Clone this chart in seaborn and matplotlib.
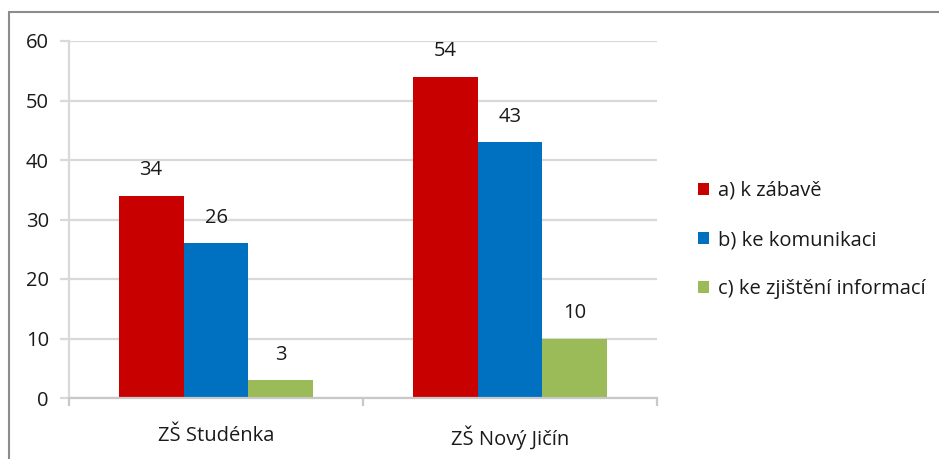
import pandas as pd
import matplotlib.pyplot as plt
import seaborn as sns
from matplotlib.patches import Rectangle

SCHOOLS = ['ZŠ Studénka', 'ZŠ Nový Jičín']
ANSWERS = ['a) k zábavě', 'b) ke komunikaci', 'c) ke zjištění informací']
VALUES = {
    'a) k zábavě': [34, 54],
    'b) ke komunikaci': [26, 43],
    'c) ke zjištění informací': [3, 10],
}
COLORS = ['#C80000', '#0070C0', '#9BBB59']
Y_TICKS = [0, 10, 20, 30, 40, 50, 60]


def build_frame():
    rows = []
    for answer in ANSWERS:
        for school, val in zip(SCHOOLS, VALUES[answer]):
            rows.append({'school': school, 'answer': answer, 'count': val})
    return pd.DataFrame(rows)


def draw(df):
    sns.set_style('white')
    plt.rcParams['font.family'] = ['Open Sans', 'DejaVu Sans']
    fig = plt.figure(figsize=(9.39, 4.59), dpi=100)
    ax = fig.add_axes([69 / 939, 1 - 398 / 459, (657 - 69) / 939, (398 - 41) / 459])

    sns.barplot(data=df, x='school', y='count', hue='answer', order=SCHOOLS,
                hue_order=ANSWERS, palette=COLORS, width=0.663, saturation=1,
                linewidth=0, ax=ax, legend=True)

    for cont in ax.containers:
        ax.bar_label(cont, padding=11, fontsize=14.5, color='#1a1a1a')

    ax.set_xlim(-0.5, 1.5)
    ax.set_ylim(0, 60)
    ax.set_yticks(Y_TICKS)
    ax.yaxis.grid(True, color='#d9d9d9', lw=1.6)
    ax.set_axisbelow(True)
    ax.set_xlabel('')
    ax.set_ylabel('')

    for side in ['top', 'right']:
        ax.spines[side].set_visible(False)
    ax.spines['left'].set_color('#d9d9d9')
    ax.spines['left'].set_linewidth(1.6)
    ax.spines['bottom'].set_color('#c8c8c8')
    ax.spines['bottom'].set_linewidth(1.6)

    ax.tick_params(axis='y', left=True, length=6.5, width=1.6, color='#d9d9d9',
                   pad=8, labelsize=14.5, labelcolor='#1a1a1a')
    ax.tick_params(axis='x', which='major', bottom=False, length=0, pad=20,
                   labelsize=14.5, labelcolor='#1a1a1a')
    ax.set_xticks([-0.5, 0.5, 1.5], minor=True)
    ax.tick_params(axis='x', which='minor', bottom=True, length=6, width=1.6,
                   color='#c8c8c8')

    handles, labels = ax.get_legend_handles_labels()
    ax.legend(handles, labels, loc='center left', bbox_to_anchor=(0.733, 0.477),
              bbox_transform=fig.transFigure, frameon=False, fontsize=14.5,
              handlelength=0.55, handleheight=0.55, handletextpad=0.45,
              labelspacing=1.45, borderpad=0, labelcolor='#1a1a1a')

    fig.patches.append(Rectangle((9 / 939, -0.1), 1.2, 1 - 12 / 459 + 0.1,
                                 transform=fig.transFigure, fill=False,
                                 edgecolor='#8c8c8c', lw=1.5))

    fig.savefig('out.png', dpi=100)


if __name__ == '__main__':
    data = build_frame()
    draw(data)
